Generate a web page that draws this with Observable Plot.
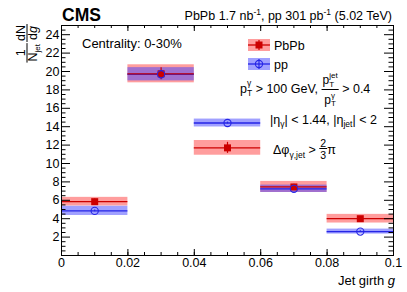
<!DOCTYPE html>
<html><head><meta charset="utf-8">
<script src="https://cdn.jsdelivr.net/npm/d3@7"></script>
<script src="https://cdn.jsdelivr.net/npm/@observablehq/plot@0.6"></script>
<style>body{margin:0;background:#fff} svg{font-family:"Liberation Sans",Arial,sans-serif}</style>
</head><body><div id="chart"></div>
<script>
// ---- data ----
const binLo = [0, 0.02, 0.04, 0.06, 0.08];
const binHi = [0.02, 0.04, 0.06, 0.08, 0.1];
const binCenter = [0.01, 0.03, 0.05, 0.07, 0.09];
const pbpbValue = [5.85, 19.75, 11.7, 7.45, 4.0];
const pbpbSyst  = [0.47, 0.98, 0.8, 0.6, 0.47];
const pbpbStat  = [0.3, 0.65, 0.6, 0.3, 0.25];
const ppValue = [4.85, 19.7, 14.4, 7.25, 2.6];
const ppSyst  = [0.5, 0.72, 0.43, 0.4, 0.27];
const ppStat  = [0.1, 0.15, 0.1, 0.1, 0.08];
const yTickLabels = [2, 4, 6, 8, 10, 12, 14, 16, 18, 20, 22, 24];
const xTickLabels = [0, 0.02, 0.04, 0.06, 0.08, 0.1];

// ---- layout ----
const W = 407, H = 292, mL = 61, mR = 14, mT = 25, mB = 37;
const innerW = W - mL - mR, innerH = H - mT - mB;
const RED_BOX = "rgb(255,60,60)", BLUE_BOX = "rgb(65,65,255)";
const RED = "#cc0000", BLUE = "#2525e6";

const pbpb = binCenter.map((c, i) => ({x1: binLo[i], x2: binHi[i], x: c, v: pbpbValue[i], s: pbpbSyst[i], e: pbpbStat[i]}));
const pp = binCenter.map((c, i) => ({x1: binLo[i], x2: binHi[i], x: c, v: ppValue[i], s: ppSyst[i], e: ppStat[i]}));

const yMajor = d3.range(0, 24.01, 2);
const yMinor = d3.range(0, 25.01, 0.5).filter(v => Math.abs(v % 2) > 1e-9);
const xMajor = d3.range(0, 0.1001, 0.02);
const xMinor = d3.range(0, 0.1001, 0.005);

const chart = Plot.plot({
  width: W, height: H,
  marginLeft: mL, marginRight: mR, marginTop: mT, marginBottom: mB,
  style: {fontFamily: "Liberation Sans, Arial, sans-serif", fontSize: "12.5px", color: "black", background: "white", overflow: "visible"},
  x: {domain: [0, 0.1]},
  y: {domain: [0, 25]},
  marks: [
    Plot.rect(pbpb, {x1: "x1", x2: "x2", y1: d => d.v - d.s, y2: d => d.v + d.s, fill: RED_BOX, fillOpacity: 0.5}),
    Plot.rect(pp, {x1: "x1", x2: "x2", y1: d => d.v - d.s, y2: d => d.v + d.s, fill: BLUE_BOX, fillOpacity: 0.5}),
    Plot.ruleY(pp, {y: "v", x1: "x1", x2: "x2", stroke: BLUE, strokeWidth: 1.3}),
    Plot.ruleY(pbpb, {y: "v", x1: "x1", x2: "x2", stroke: RED, strokeWidth: 1.3}),
    Plot.ruleX(pbpb, {x: "x", y1: d => d.v - d.e, y2: d => d.v + d.e, stroke: RED, strokeWidth: 1.2}),
    Plot.ruleX(pp, {x: "x", y1: d => d.v - d.e, y2: d => d.v + d.e, stroke: BLUE, strokeWidth: 1.2}),
    Plot.dot(pbpb, {x: "x", y: "v", symbol: "square", r: 3.95, fill: RED, stroke: "none"}),
    Plot.dot(pp, {x: "x", y: "v", symbol: "circle", r: 3.6, fill: "none", stroke: BLUE, strokeWidth: 1.1}),
    // ticks (ROOT style, inside frame on all sides)
    Plot.ruleY(yMajor, {y: d => d, insetRight: innerW - 9, stroke: "black"}),
    Plot.ruleY(yMajor, {y: d => d, insetLeft: innerW - 9, stroke: "black"}),
    Plot.ruleY(yMinor, {y: d => d, insetRight: innerW - 4.5, stroke: "black"}),
    Plot.ruleY(yMinor, {y: d => d, insetLeft: innerW - 4.5, stroke: "black"}),
    Plot.ruleX(xMajor, {x: d => d, insetTop: innerH - 6, stroke: "black"}),
    Plot.ruleX(xMajor, {x: d => d, insetBottom: innerH - 6, stroke: "black"}),
    Plot.ruleX(xMinor, {x: d => d, insetTop: innerH - 3, stroke: "black"}),
    Plot.ruleX(xMinor, {x: d => d, insetBottom: innerH - 3, stroke: "black"}),
    Plot.axisY({ticks: yTickLabels, tickSize: 0, tickPadding: 2, fontSize: 12.5, label: null}),
    Plot.axisX({ticks: xTickLabels, tickSize: 0, tickPadding: 3, fontSize: 12.5, tickFormat: d => String(d), label: null}),
    Plot.frame({stroke: "black", strokeWidth: 1})
  ]
});
document.getElementById("chart").appendChild(chart);

// ---- rich text helpers ----
const svg = d3.select(chart);
function layout(g, x0, base, items) {
  let cx = x0, pending = 0;
  for (const it of items) {
    if (it.frac) {
      const num = g.append("g"), den = g.append("g");
      const wn = layout(num, 0, 0, it.num), wd = layout(den, 0, 0, it.den);
      const w = Math.max(wn, wd) + 2;
      num.attr("transform", `translate(${cx + (w - wn) / 2},${base + it.numDy})`);
      den.attr("transform", `translate(${cx + (w - wd) / 2},${base + it.denDy})`);
      g.append("line").attr("x1", cx).attr("x2", cx + w)
        .attr("y1", base + it.barDy).attr("y2", base + it.barDy)
        .attr("stroke", "black").attr("stroke-width", 1);
      cx += Math.max(pending, w); pending = 0;
      continue;
    }
    const t = g.append("text").attr("x", cx).attr("y", base + (it.dy || 0))
      .attr("text-anchor", "start")
      .attr("font-size", it.size || 12.5).attr("fill", "black").text(it.t);
    if (it.italic) t.attr("font-style", "italic");
    if (it.bold) t.attr("font-weight", "bold");
    const w = t.node().getComputedTextLength();
    if (it.stack) pending = Math.max(pending, w);
    else { cx += Math.max(pending, w); pending = 0; }
  }
  return cx - x0 + pending;
}
function rich(x, y, items, anchor) {
  const g = svg.append("g").attr("text-anchor", "start");
  const w = layout(g, 0, 0, items);
  const dx = anchor === "end" ? x - w : x;
  g.attr("transform", `translate(${dx},${y})`);
  return g;
}

// header
rich(62, 21, [{t: "CMS", size: 17.5, bold: true}]);
rich(392, 20, [
  {t: "PbPb 1.7 nb"}, {t: "-1", size: 8.5, dy: -5}, {t: ", pp 301 pb"}, {t: "-1", size: 8.5, dy: -5}, {t: " (5.02 TeV)"}
], "end");

// axis titles
rich(395, 285, [{t: "Jet girth "}, {t: "g", italic: true}].map(d => ({...d, size: 13})), "end");
{
  const items = [
    {frac: true, num: [{t: "1"}], den: [{t: "N"}, {t: "jet", size: 8, dy: 3}], numDy: -2.5, denDy: 10, barDy: 0},
    {t: " ", size: 4},
    {frac: true, num: [{t: "dN"}], den: [{t: "d"}, {t: "g", italic: true}], numDy: -2.5, denDy: 10, barDy: 0}
  ];
  const g = svg.append("g").attr("text-anchor", "start");
  const w = layout(g, 0, 0, items);
  g.attr("transform", `translate(27,${24 + w}) rotate(-90)`);
}

// annotations
rich(82, 48, [{t: "Centrality: 0-30%", size: 13}]);
rich(240, 93, [
  {t: "p"}, {t: "γ", size: 8.5, dy: -7, stack: true}, {t: "T", size: 8.5, dy: 3},
  {t: " > 100 GeV, "},
  {frac: true, numDy: -9, denDy: 10.5, barDy: -3.5,
    num: [{t: "p", size: 12}, {t: "jet", size: 8, dy: -6, stack: true}, {t: "T", size: 8, dy: 2.5}],
    den: [{t: "p", size: 12}, {t: "γ", size: 8, dy: -5.5, stack: true}, {t: "T", size: 8, dy: 2.5}]},
  {t: " > 0.4"}
]);
rich(270, 124, [
  {t: "|η"}, {t: "γ", size: 8.5, dy: 3}, {t: "| < 1.44, |η"}, {t: "jet", size: 8.5, dy: 3}, {t: "| < 2"}
]);
rich(273, 154, [
  {t: "Δφ"}, {t: "γ,jet", size: 8.5, dy: 4}, {t: " > "},
  {frac: true, numDy: -7, denDy: 4.5, barDy: -5.5, num: [{t: "2", size: 10.5}], den: [{t: "3", size: 10.5}]},
  {t: "π"}
]);

// legend
const leg = svg.append("g").attr("text-anchor", "start");
function legendEntry(y, box, line, marker, label) {
  leg.append("rect").attr("x", 248).attr("y", y - 6).attr("width", 22).attr("height", 12)
    .attr("fill", box).attr("fill-opacity", 0.5);
  leg.append("line").attr("x1", 248).attr("x2", 270).attr("y1", y).attr("y2", y).attr("stroke", line).attr("stroke-width", 1.3);
  leg.append("line").attr("x1", 259).attr("x2", 259).attr("y1", y - 5).attr("y2", y + 5).attr("stroke", line).attr("stroke-width", 1.2);
  if (marker === "square") leg.append("rect").attr("x", 255.5).attr("y", y - 3.5).attr("width", 7).attr("height", 7).attr("fill", line);
  else leg.append("circle").attr("cx", 259).attr("cy", y).attr("r", 3.6).attr("fill", "none").attr("stroke", line).attr("stroke-width", 1.1);
  leg.append("text").attr("x", 274).attr("y", y + 4.5).attr("font-size", 12.5).attr("fill", "black").text(label);
}
legendEntry(45, RED_BOX, RED, "square", "PbPb");
legendEntry(64, BLUE_BOX, BLUE, "circle", "pp");
</script></body></html>
